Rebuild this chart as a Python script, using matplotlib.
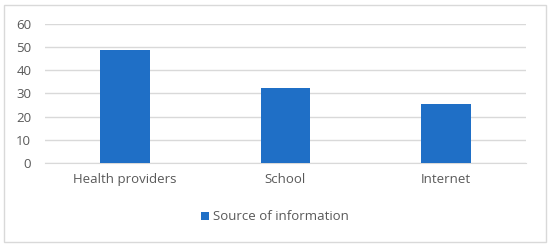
import matplotlib.pyplot as plt
from matplotlib.patches import Rectangle

categories = ["Health providers", "School", "Internet"]
values = [49, 32.2, 25.3]
series_name = "Source of information"

bar_color = "#1f6fc6"
text_color = "#595959"
grid_color = "#d9d9d9"

plt.rcParams['font.family'] = ['Open Sans', 'DejaVu Sans']

fig = plt.figure(figsize=(5.5, 2.48), dpi=100)
ax = fig.add_axes([0.082, 0.343, 0.874, 0.56])

ax.bar(range(len(categories)), values, width=0.31, color=bar_color,
       label=series_name, zorder=3)
ax.set_xlim(-0.5, len(categories) - 0.5)
ax.set_ylim(0, 60)
ax.set_yticks(range(0, 61, 10))
ax.set_xticks(range(len(categories)))
ax.set_xticklabels(categories)
ax.yaxis.grid(True, color=grid_color, linewidth=1, zorder=0)
for s in ax.spines.values():
    s.set_visible(False)
ax.spines['bottom'].set_visible(True)
ax.spines['bottom'].set_color(grid_color)
ax.tick_params(length=0, colors=text_color, labelsize=9.5)
ax.tick_params(axis='x', pad=7)
ax.tick_params(axis='y', pad=10)

leg = fig.legend(loc='center', bbox_to_anchor=(0.5, 0.125), frameon=False,
                 fontsize=9.5, handlelength=0.6, handleheight=0.6,
                 handletextpad=0.3)
for t in leg.get_texts():
    t.set_color(text_color)

# outer chart border
fig.patches.append(Rectangle((0.008, 0.024), 0.984, 0.956,
                             transform=fig.transFigure, fill=False,
                             edgecolor=grid_color, linewidth=1))

fig.savefig("out.png", dpi=100)
